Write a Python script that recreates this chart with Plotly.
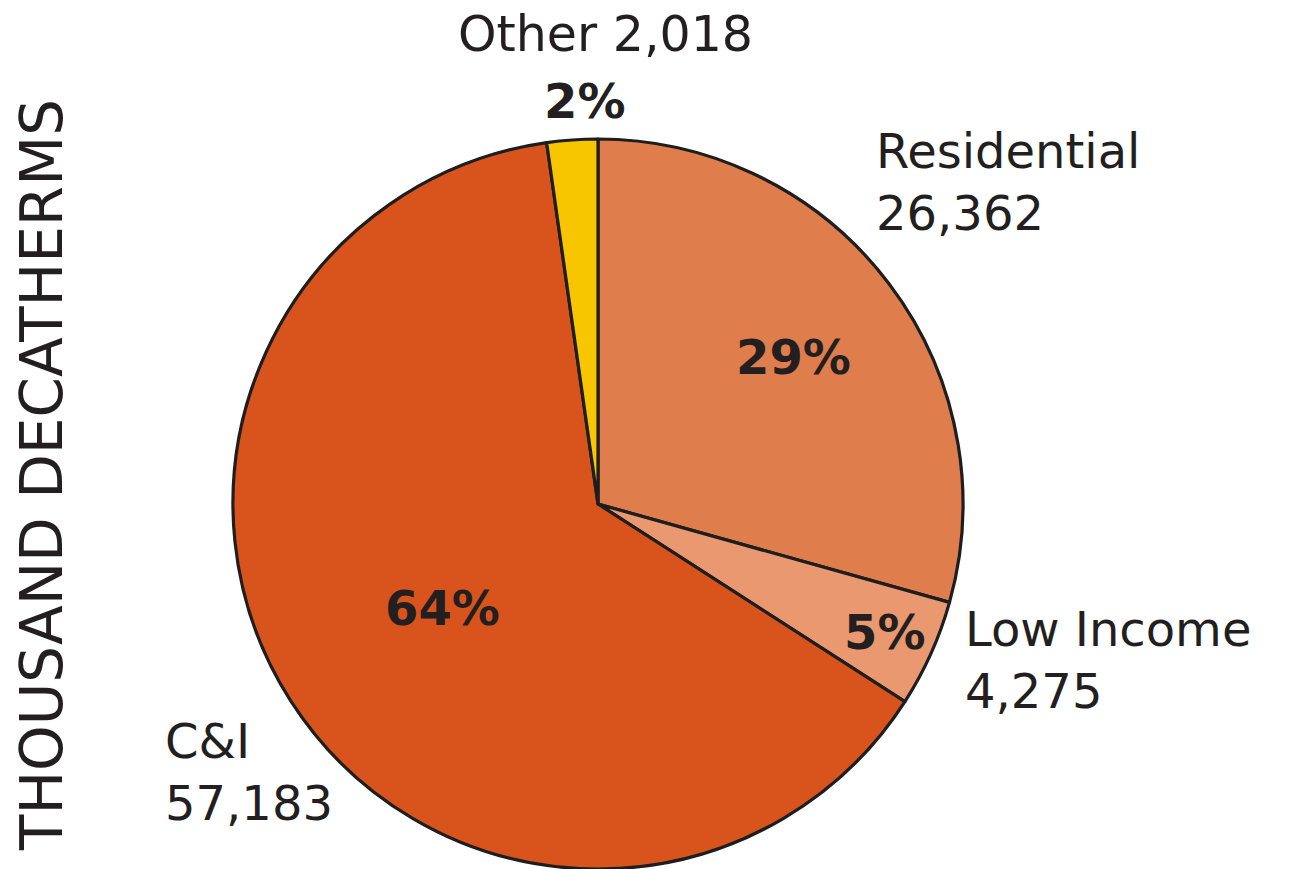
import plotly.graph_objects as go

labels = ["Residential", "Low Income", "C&I", "Other"]
values = [26362, 4275, 57183, 2018]
colors = ["#E07D4C", "#E9986F", "#D9531D", "#F7C600"]
axis_title = "THOUSAND DECATHERMS"

W, H = 1296, 869
total = sum(values)
pcts = [f"{round(v / total * 100):d}%" for v in values]
vals_txt = [f"{v:,}" for v in values]

fig = go.Figure(go.Pie(
    labels=labels, values=values, sort=False, direction="clockwise", rotation=0,
    marker=dict(colors=colors, line=dict(color="#1e1e1e", width=3.2)),
    textinfo="none", hoverinfo="label+value+percent", showlegend=False,
    domain=dict(x=[(598 - 365) / W, (598 + 365) / W], y=[0, 730 / H]),
))

FONT = "DejaVu Sans"
def px(x, y):
    return x / W, 1 - y / H

anns = []
def add(text, x, y, size, xanchor="center", weight=400, angle=0, color="#231f20"):
    ax, ay = px(x, y)
    anns.append(dict(text=text, x=ax, y=ay, xref="paper", yref="paper", showarrow=False,
                     xanchor=xanchor, yanchor="middle", textangle=angle, align="left",
                     font=dict(family=FONT, size=size, color=color, weight=weight)))

# outside labels (name + value)
add(f"{labels[3]} {vals_txt[3]}", 605, 35, 49)
add(f"{labels[0]}<br>{vals_txt[0]}", 874, 182, 48, xanchor="left")
add(f"{labels[1]}<br>{vals_txt[1]}", 963, 660, 48, xanchor="left")
add(f"{labels[2]}<br>{vals_txt[2]}", 163, 772, 48, xanchor="left")
# percentages
add(pcts[3], 585, 101, 48, weight=700)
add(pcts[0], 793, 357, 48, weight=700)
add(pcts[1], 885, 632, 48, weight=700)
add(pcts[2], 442, 608, 48, weight=700)
# vertical title
add(axis_title, 42, 475, 58, angle=-90)

fig.update_layout(width=W, height=H, margin=dict(l=0, r=0, t=0, b=0),
                  paper_bgcolor="white", plot_bgcolor="white", annotations=anns)
fig.write_html("out.html")
